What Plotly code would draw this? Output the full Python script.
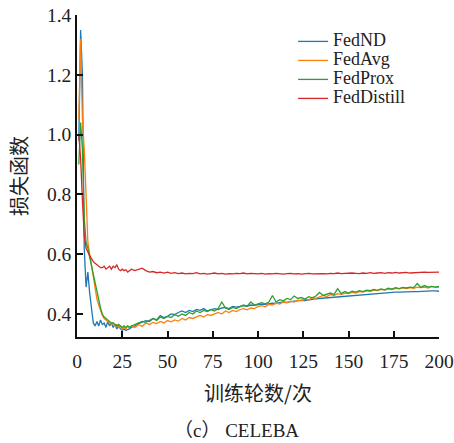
import plotly.graph_objects as go

epochs = list(range(1, 31)) + list(range(32, 201, 2))

fednd = [0.98, 1.35, 1.20, 0.62, 0.49, 0.54, 0.47, 0.41, 0.37, 0.36,
         0.375, 0.36, 0.38, 0.365, 0.37, 0.355, 0.375, 0.36, 0.37, 0.355,
         0.365, 0.35, 0.36, 0.35, 0.345, 0.35, 0.345, 0.348, 0.35, 0.355,
         0.36, 0.368, 0.372, 0.378, 0.375, 0.385, 0.38, 0.395, 0.388, 0.392,
         0.40, 0.398, 0.405, 0.41, 0.405, 0.412, 0.408, 0.415, 0.412, 0.418,
         0.41, 0.415, 0.418, 0.415, 0.42, 0.422, 0.418, 0.425, 0.423, 0.425,
         0.428, 0.426, 0.43, 0.429, 0.432, 0.433, 0.432, 0.435, 0.436, 0.435,
         0.438, 0.44, 0.439, 0.442, 0.443, 0.444, 0.446, 0.445, 0.448, 0.449,
         0.451, 0.452, 0.453, 0.455, 0.456, 0.457, 0.459, 0.46, 0.461, 0.462,
         0.463, 0.464, 0.465, 0.466, 0.467, 0.468, 0.469, 0.47, 0.47, 0.471,
         0.472, 0.472, 0.473, 0.473, 0.474, 0.474, 0.475, 0.475, 0.475, 0.476,
         0.476, 0.476, 0.477, 0.477, 0.476]

fedavg = [1.05, 1.32, 1.05, 0.95, 0.80, 0.64, 0.60, 0.56, 0.52, 0.48,
          0.45, 0.43, 0.41, 0.395, 0.385, 0.38, 0.375, 0.37, 0.365, 0.37,
          0.36, 0.365, 0.355, 0.36, 0.35, 0.355, 0.35, 0.36, 0.355, 0.36,
          0.355, 0.365, 0.358, 0.37, 0.365, 0.372, 0.368, 0.375, 0.37, 0.378,
          0.374, 0.38, 0.376, 0.385, 0.38, 0.388, 0.385, 0.39, 0.395, 0.39,
          0.398, 0.395, 0.40, 0.405, 0.40, 0.41, 0.405, 0.412, 0.408, 0.415,
          0.418, 0.414, 0.42, 0.418, 0.425, 0.428, 0.424, 0.432, 0.43, 0.436,
          0.433, 0.44, 0.437, 0.443, 0.44, 0.446, 0.444, 0.45, 0.447, 0.455,
          0.452, 0.458, 0.462, 0.458, 0.465, 0.462, 0.468, 0.465, 0.47, 0.468,
          0.472, 0.47, 0.475, 0.473, 0.477, 0.475, 0.48, 0.478, 0.482, 0.48,
          0.484, 0.482, 0.486, 0.484, 0.487, 0.485, 0.488, 0.486, 0.49, 0.488,
          0.49, 0.487, 0.492, 0.489, 0.49]

fedprox = [0.90, 1.04, 0.95, 0.72, 0.64, 0.62, 0.59, 0.56, 0.53, 0.50,
           0.48, 0.45, 0.42, 0.40, 0.39, 0.385, 0.38, 0.375, 0.37, 0.37,
           0.365, 0.36, 0.365, 0.36, 0.355, 0.36, 0.355, 0.36, 0.355, 0.36,
           0.365, 0.37, 0.375, 0.372, 0.38, 0.385, 0.378, 0.39, 0.385, 0.392,
           0.388, 0.398, 0.392, 0.40, 0.395, 0.405, 0.40, 0.41, 0.405, 0.412,
           0.408, 0.415, 0.41, 0.418, 0.44, 0.42, 0.415, 0.422, 0.418, 0.425,
           0.43, 0.426, 0.44, 0.43, 0.435, 0.438, 0.434, 0.44, 0.462, 0.44,
           0.448, 0.444, 0.452, 0.448, 0.46, 0.452, 0.455, 0.45, 0.458, 0.454,
           0.46, 0.472, 0.462, 0.466, 0.47, 0.465, 0.485, 0.468, 0.475, 0.47,
           0.476, 0.473, 0.478, 0.475, 0.48, 0.478, 0.482, 0.479, 0.484, 0.481,
           0.486, 0.483, 0.488, 0.485, 0.489, 0.487, 0.49, 0.488, 0.502, 0.489,
           0.495, 0.49, 0.492, 0.49, 0.492]

feddistill = [1.00, 0.92, 0.78, 0.66, 0.62, 0.605, 0.595, 0.585, 0.575, 0.57,
              0.565, 0.56, 0.555, 0.555, 0.56, 0.55, 0.555, 0.56, 0.55, 0.56,
              0.555, 0.565, 0.55, 0.545, 0.55, 0.545, 0.548, 0.54, 0.545, 0.55,
              0.545, 0.55, 0.553, 0.545, 0.54, 0.542, 0.538, 0.54, 0.537, 0.54,
              0.536, 0.538, 0.535, 0.537, 0.534, 0.536, 0.535, 0.538, 0.534, 0.536,
              0.533, 0.535, 0.537, 0.534, 0.536, 0.533, 0.535, 0.534, 0.536, 0.535,
              0.537, 0.534, 0.536, 0.535, 0.534, 0.536, 0.533, 0.535, 0.534, 0.536,
              0.535, 0.533, 0.535, 0.536, 0.534, 0.535, 0.533, 0.535, 0.536, 0.534,
              0.535, 0.536, 0.535, 0.534, 0.536, 0.535, 0.537, 0.535, 0.536, 0.535,
              0.537, 0.536, 0.535, 0.537, 0.536, 0.538, 0.536, 0.537, 0.538, 0.536,
              0.538, 0.537, 0.539, 0.537, 0.538, 0.539, 0.537, 0.538, 0.539, 0.538,
              0.54, 0.539, 0.54, 0.539, 0.54]

series_names = ["FedND", "FedAvg", "FedProx", "FedDistill"]
series_values = [fednd, fedavg, fedprox, feddistill]
colors = ["#1f77b4", "#ff7f0e", "#2ca02c", "#d62728"]

x_ticks = [0, 25, 50, 75, 100, 125, 150, 175, 200]
y_ticks = [0.4, 0.6, 0.8, 1.0, 1.2, 1.4]
y_tick_text = ["0.4", "0.6", "0.8", "1.0", "1.2", "1.4"]

SERIF = "Liberation Serif, Times New Roman, serif"
CJK = "Noto Sans CJK SC, sans-serif"
LEGEND_TEXT_SIZE = 18

fig = go.Figure()
for name, vals, c in zip(series_names, series_values, colors):
    fig.add_trace(go.Scatter(
        x=epochs, y=vals, mode="lines",
        name=f'<span style="font-size:{LEGEND_TEXT_SIZE}px">{name}</span>',
        line=dict(color=c, width=1.3)))

fig.update_layout(
    width=454, height=443,
    margin=dict(l=77, r=15, t=15, b=106, autoexpand=False),
    paper_bgcolor="white", plot_bgcolor="white",
    showlegend=True,
    legend=dict(x=0.597, y=0.963, xanchor="left", yanchor="top",
                font=dict(family=SERIF, size=12, color="#222"),
                bgcolor="rgba(0,0,0,0)", tracegroupgap=0, itemwidth=30),
    xaxis=dict(range=[0, 200], tickvals=x_ticks, ticks="inside", ticklen=6,
               tickwidth=1.5, tickcolor="#111", showline=True, linecolor="#111",
               linewidth=1.5, showgrid=False, zeroline=False, automargin=False,
               ticklabelstandoff=6,
               tickfont=dict(family=SERIF, size=19.5, color="#222"),
               title=dict(text="训练轮数/次", font=dict(family=CJK, size=20, color="#222"),
                          standoff=16)),
    yaxis=dict(range=[0.323, 1.4], tickvals=y_ticks, ticktext=y_tick_text,
               ticks="inside", ticklen=6, tickwidth=1.5, tickcolor="#111",
               showline=True, linecolor="#111", linewidth=1.5, showgrid=False,
               zeroline=False, automargin=False,
               tickfont=dict(family=SERIF, size=19.5, color="#222"),
               title=dict(text="损失函数", font=dict(family=CJK, size=20, color="#222"),
                          standoff=14)),
)

fig.add_annotation(text="（c） CELEBA", xref="paper", yref="paper",
                   x=0.44, y=0, yshift=-81, xanchor="center", yanchor="top",
                   showarrow=False,
                   font=dict(family=SERIF + ", Noto Sans CJK SC", size=19, color="#222"))

fig.write_html("out.html", config={"displayModeBar": False},
               post_script="document.body.style.margin='0';document.body.style.overflow='hidden';")
